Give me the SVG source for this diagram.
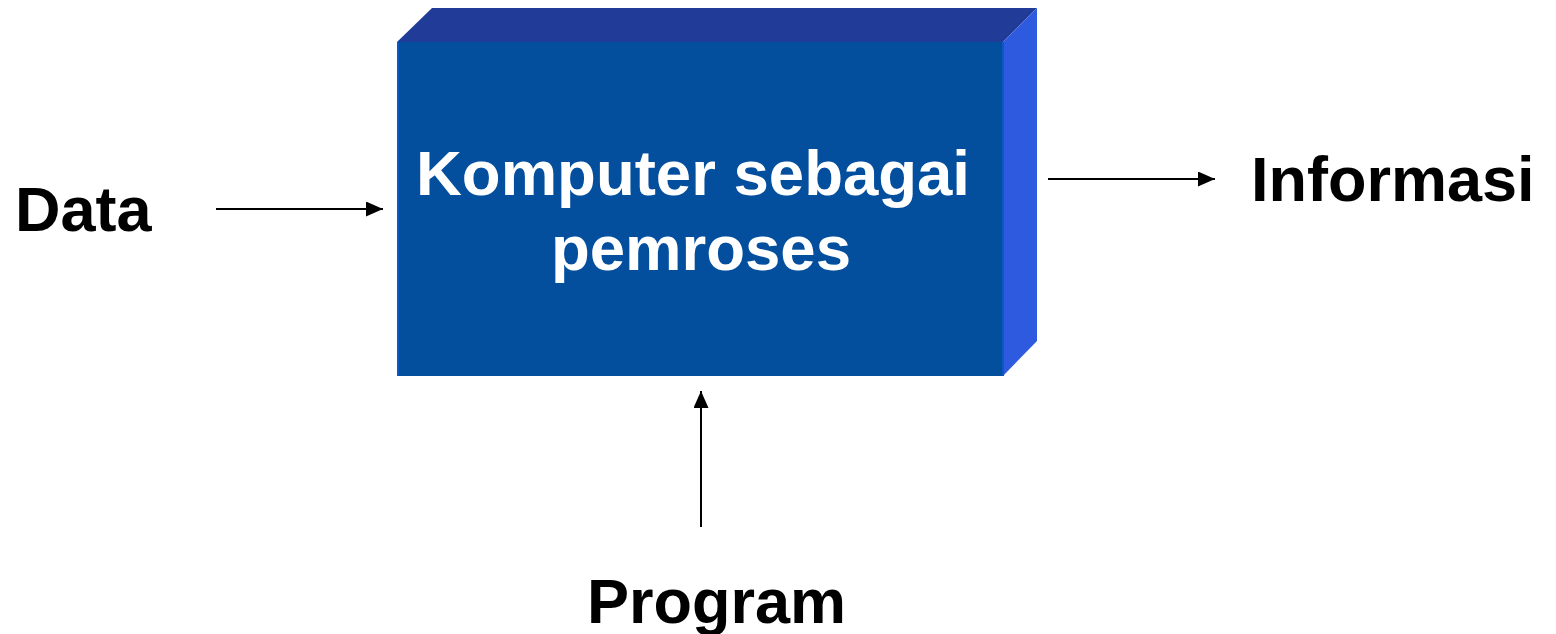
<svg xmlns="http://www.w3.org/2000/svg" width="1556" height="634" viewBox="0 0 1556 634">
<style>
.lbl{font-family:"Liberation Sans",Arial,sans-serif;font-weight:bold;font-size:63px;fill:#000}
.in{font-family:"Liberation Sans",Arial,sans-serif;font-weight:bold;font-size:63.5px;fill:#fff}
.conn{stroke:#000;stroke-width:2;fill:none}
</style>
<defs>
<marker id="ah" markerWidth="17" markerHeight="15" refX="17" refY="7.5" orient="auto" markerUnits="userSpaceOnUse">
<path d="M0,0 L17,7.5 L0,15 Z" fill="#000"/>
</marker>
</defs>
<g id="box">
<polygon points="397,42 432,8 1037,8 1003,42" fill="#203C98"/>
<polygon points="1003,42 1037,8 1037,341 1003,376" fill="#2E5AE0"/>
<rect x="397" y="42" width="606" height="334" fill="#034F9E"/>
<line x1="398" y1="42" x2="398" y2="376" stroke="#0A58C4" stroke-width="2"/>
<line x1="1003" y1="42" x2="1003" y2="376" stroke="#0A58C4" stroke-width="2"/>
<text class="in" x="416" y="195">Komputer sebagai</text>
<text class="in" x="701" y="270" text-anchor="middle">pemroses</text>
</g>
<g id="data"><text class="lbl" x="15" y="231">Data</text></g>
<g id="informasi"><text class="lbl" x="1251" y="201">Informasi</text></g>
<g id="program"><text class="lbl" x="587" y="623">Program</text></g>
<g id="connectors">
<line class="conn" x1="216" y1="209" x2="383" y2="209" marker-end="url(#ah)"/>
<line class="conn" x1="1048" y1="179" x2="1215" y2="179" marker-end="url(#ah)"/>
<line class="conn" x1="701" y1="527" x2="701" y2="391" marker-end="url(#ah)"/>
</g>
</svg>
